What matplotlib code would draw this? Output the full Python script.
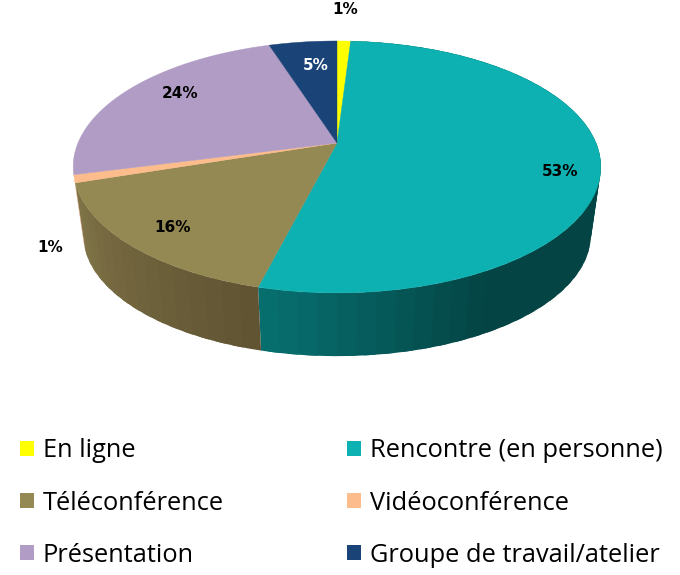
#!/usr/bin/python
import numpy as np
import matplotlib
matplotlib.use('Agg')
import matplotlib.pyplot as plt
from matplotlib.patches import Patch

categories = ['En ligne', 'Rencontre (en personne)', 'Téléconférence',
              'Vidéoconférence', 'Présentation', 'Groupe de travail/atelier']
values = [1, 53, 16, 1, 24, 5]
labels = ['1%', '53%', '16%', '1%', '24%', '5%']
colors = ['#FFFF00', '#0DB1B1', '#948853', '#FCBC8C', '#B09CC4', '#1A4378']

# side wall shades going clockwise, None where the wall faces away
side_from = [None, '#044444', '#615433', '#C08050', None, None]
side_to = [None, '#077070', '#807448', '#C08050', None, None]

label_xy = [(345, 10), (560, 172), (173, 227), (50, 248), (180, 93), (316, 66)]
label_colors = ['black', 'black', 'black', 'black', 'black', 'white']

# pie seen in perspective, all in picture pixels
cx, apex_y = 337, 143
R, A, K = 259, 121.4, 0.19
mid_y, depth, shrink = 167, 68, 0.962


def top(theta):
    u, v = np.sin(theta), np.cos(theta)
    w = 1 + K * v
    return cx + R * u / w, apex_y - A * v / w


def bottom(theta):
    x, y = top(theta)
    return cx + (x - cx) * shrink, mid_y + (y - mid_y) * shrink + depth


fig = plt.figure(figsize=(6.8, 5.75), dpi=100)
ax = fig.add_axes([0, 0, 1, 1])
ax.set_xlim(0, 680)
ax.set_ylim(575, 0)
ax.axis('off')

edges = np.radians(np.cumsum([0] + values) * 3.6)

# side wall first, top face goes over it
for i in range(len(values)):
    if side_from[i] is None:
        continue
    n = max(values[i], 1)
    steps = np.linspace(edges[i], edges[i + 1], n + 1)
    c0 = np.array(matplotlib.colors.to_rgb(side_from[i]))
    c1 = np.array(matplotlib.colors.to_rgb(side_to[i]))
    for j in range(n):
        # each band runs a bit under the next one so no seam shows
        t = np.linspace(steps[j], min(steps[j] + (steps[1] - steps[0]) * 1.6, edges[i + 1]), 6)
        xt, yt = top(t)
        xb, yb = bottom(t)
        f = j / max(n - 1, 1)
        if i == 1:
            # teal stays flat and dark, then lightens towards the olive slice
            f = max(1 - (edges[2] - t.mean()) / np.radians(42), 0)
        c = c0 + (c1 - c0) * f
        ax.fill(np.r_[xt, xb[::-1]], np.r_[yt, yb[::-1]], color=c, lw=0, zorder=2)

for i in range(len(values)):
    t = np.linspace(edges[i], edges[i + 1], 120)
    x, y = top(t)
    ax.fill(np.r_[cx, x], np.r_[apex_y, y], color=colors[i], lw=0.3, zorder=3)
    ax.text(label_xy[i][0], label_xy[i][1], labels[i], color=label_colors[i],
            fontsize=11, fontweight='bold', family='DejaVu Sans',
            ha='center', va='center', zorder=5)

# legend fills by column, picture reads by row
order = [0, 2, 4, 1, 3, 5]
handles = [Patch(facecolor=colors[k], edgecolor='none') for k in order]
names = [categories[k] for k in order]
ax.legend(handles, names, ncol=2, loc='upper left', bbox_to_anchor=(0.029, 0.2376),
          frameon=False, prop={'family': 'Open Sans', 'size': 18.3},
          handlelength=0.55, handleheight=0.55, handletextpad=0.35,
          columnspacing=4.85, labelspacing=1.07, borderpad=0, borderaxespad=0)

fig.savefig('out.png', dpi=100)
